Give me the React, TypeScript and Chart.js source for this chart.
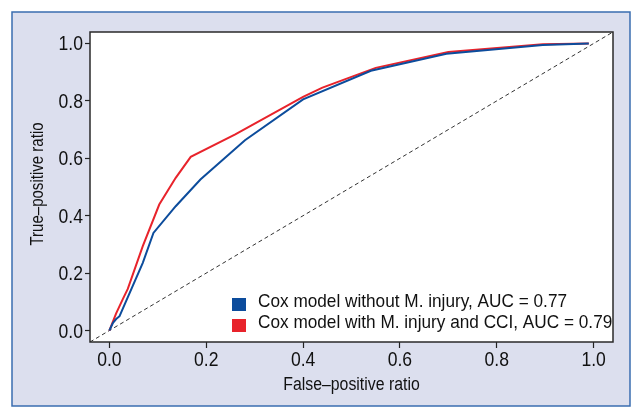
import React, { useEffect, useRef } from "react";
import { Chart, registerables } from "chart.js";

Chart.register(...registerables);

const fprBlue = [0, 0.0075, 0.014, 0.021, 0.069, 0.091, 0.137, 0.188, 0.28, 0.40, 0.54, 0.696, 0.895, 0.99];
const tprBlue = [0, 0.027, 0.04, 0.05, 0.236, 0.34, 0.433, 0.526, 0.663, 0.805, 0.905, 0.964, 0.995, 1.0];
const fprRed = [0, 0.0075, 0.014, 0.028, 0.038, 0.069, 0.103, 0.137, 0.168, 0.26, 0.40, 0.44, 0.55, 0.70, 0.895, 0.99];
const tprRed = [0, 0.032, 0.06, 0.11, 0.145, 0.294, 0.439, 0.532, 0.605, 0.683, 0.814, 0.846, 0.915, 0.97, 0.997, 1.0];
const refLine = [-0.04, 1.04];
const tickValues = [0, 0.2, 0.4, 0.6, 0.8, 1.0];
const tickLabels = ["0.0", "0.2", "0.4", "0.6", "0.8", "1.0"];
const xTitle = "False–positive ratio";
const yTitle = "True–positive ratio";
const seriesLabels = [
  "Cox model without M. injury, AUC = 0.77",
  "Cox model with M. injury and CCI, AUC = 0.79",
];
const seriesColors = ["#0c4c9c", "#e8232b"];

const FONT = "'Liberation Sans', Arial, sans-serif";
const TEXT = "#111111";

function narrowText(ctx: any, text: string, x: number, y: number, size: number, sx: number, align: string, rot = 0) {
  ctx.save();
  ctx.translate(x, y);
  if (rot) ctx.rotate(rot);
  ctx.scale(sx, 1);
  ctx.font = size + "px " + FONT;
  ctx.textAlign = align;
  ctx.textBaseline = "alphabetic";
  ctx.fillStyle = TEXT;
  ctx.fillText(text, 0, 0);
  ctx.restore();
}

export default function App() {
  const ref = useRef<HTMLCanvasElement | null>(null);
  useEffect(() => {
    document.body.style.margin = "0";
    const canvas = ref.current!;
    const bgPlugin = {
      id: "bg",
      beforeDraw(chart: any) {
        const ctx = chart.ctx;
        ctx.save();
        ctx.fillStyle = "#ffffff";
        ctx.fillRect(0, 0, chart.width, chart.height);
        ctx.fillStyle = "#dcdfee";
        ctx.fillRect(12, 12, 618, 394);
        ctx.strokeStyle = "#3a6db0";
        ctx.lineWidth = 1.5;
        ctx.strokeRect(12, 12, 618, 394);
        const a = chart.chartArea;
        ctx.fillStyle = "#ffffff";
        ctx.fillRect(a.left, a.top, a.right - a.left, a.bottom - a.top);
        ctx.restore();
      },
      afterDatasetsDraw(chart: any) {
        const ctx = chart.ctx;
        const a = chart.chartArea;
        const xs = chart.scales.x;
        const ys = chart.scales.y;
        ctx.save();
        ctx.strokeStyle = "#2a2a2a";
        ctx.lineWidth = 1.5;
        ctx.strokeRect(a.left, a.top, a.right - a.left, a.bottom - a.top);
        ctx.restore();

        tickValues.forEach((v, i) => {
          const py = ys.getPixelForValue(v);
          narrowText(ctx, tickLabels[i], a.left - 7, py + 7, 19.5, 0.9, "right");
          const px = xs.getPixelForValue(v);
          narrowText(ctx, tickLabels[i], px, a.bottom + 24, 19.5, 0.9, "center");
        });
        narrowText(ctx, xTitle, (a.left + a.right) / 2, 390, 18, 0.88, "center");
        narrowText(ctx, yTitle, 43, (a.top + a.bottom) / 2 - 3, 17.5, 0.86, "center", -Math.PI / 2);

        const rows = [304.5, 325.5];
        seriesLabels.forEach((lab, i) => {
          ctx.save();
          ctx.fillStyle = seriesColors[i];
          ctx.fillRect(232, rows[i] - 6.5, 14, 13);
          ctx.restore();
          narrowText(ctx, lab, 258, rows[i] + 2.5, 18.5, 0.93, "left");
        });
      },
    };
    const chart = new Chart(canvas, {
      type: "scatter",
      data: {
        datasets: [
          {
            label: seriesLabels[0],
            data: fprBlue.map((x, i) => ({ x, y: tprBlue[i] })),
            borderColor: seriesColors[0],
            backgroundColor: seriesColors[0],
            showLine: true,
            borderWidth: 2,
            pointRadius: 0,
            tension: 0,
          },
          {
            label: seriesLabels[1],
            data: fprRed.map((x, i) => ({ x, y: tprRed[i] })),
            borderColor: seriesColors[1],
            backgroundColor: seriesColors[1],
            showLine: true,
            borderWidth: 2,
            pointRadius: 0,
            tension: 0,
          },
          {
            label: "ref",
            data: refLine.map((v) => ({ x: v, y: v })),
            borderColor: "#333",
            showLine: true,
            borderWidth: 1,
            borderDash: [4, 3],
            pointRadius: 0,
          },
        ],
      },
      options: {
        responsive: false,
        animation: false,
        layout: { padding: { top: 32, right: 30, left: 0, bottom: 0 } },
        plugins: { legend: { display: false }, tooltip: { enabled: false } },
        scales: {
          x: {
            type: "linear",
            min: -0.04,
            max: 1.04,
            afterBuildTicks: (s: any) => {
              s.ticks = tickValues.map((v) => ({ value: v }));
            },
            afterFit: (s: any) => {
              s.height = 78;
            },
            border: { display: false },
            grid: { drawOnChartArea: false, drawTicks: true, tickLength: 6, tickColor: "#222", tickWidth: 1.2 },
            ticks: { display: false },
            title: { display: false },
          },
          y: {
            type: "linear",
            min: -0.04,
            max: 1.04,
            afterBuildTicks: (s: any) => {
              s.ticks = tickValues.map((v) => ({ value: v }));
            },
            afterFit: (s: any) => {
              s.width = 90;
            },
            border: { display: false },
            grid: { drawOnChartArea: false, drawTicks: true, tickLength: 5, tickColor: "#222", tickWidth: 1.2 },
            ticks: { display: false },
            title: { display: false },
          },
        },
      },
      plugins: [bgPlugin],
    } as any);
    return () => chart.destroy();
  }, []);
  return <canvas ref={ref} width={643} height={420} style={{ display: "block" }} />;
}
